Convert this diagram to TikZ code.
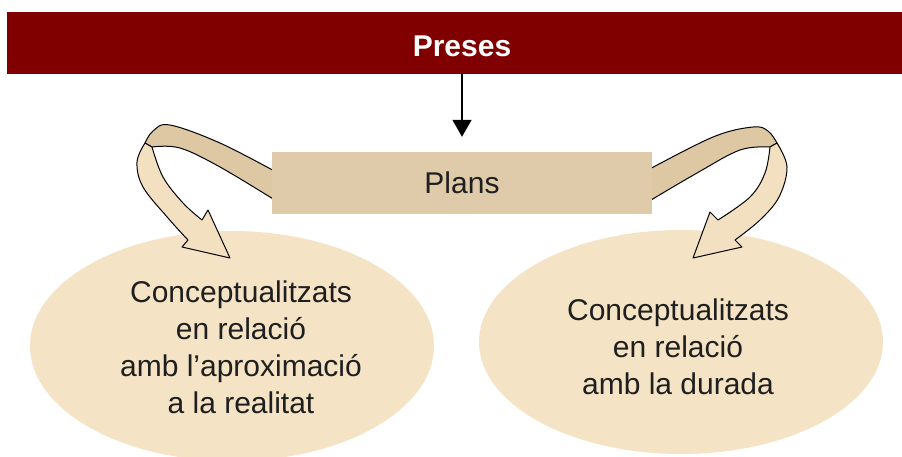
\documentclass[tikz,border=0pt]{standalone}
\usepackage{fontspec}
\setmainfont{Liberation Sans}
\usetikzlibrary{shapes.geometric,arrows.meta}
\definecolor{bandred}{HTML}{800000}
\definecolor{plantan}{HTML}{DFCBA9}
\definecolor{ribdark}{HTML}{DDC8A3}
\definecolor{riblight}{HTML}{F3E0C0}
\definecolor{ellfill}{HTML}{F5E3C5}
\tikzset{
  ovalbox/.style={ellipse, fill=ellfill, draw=none, inner sep=0pt},
  ribtop/.style={fill=ribdark, draw=black, line width=1pt, line join=round},
  ribdown/.style={fill=riblight, draw=black, line width=1pt, line join=round},
  bodytext/.style={font=\fontsize{30}{37}\selectfont, align=center, text=black!88},
}
\begin{document}
\begin{tikzpicture}[x=1pt,y=-1pt]
\useasboundingbox (0,0) rectangle (902,456);
% band
\node[fill=bandred, minimum width=895pt, minimum height=62pt, inner sep=0pt, anchor=north west] (band) at (7,12) {};
\node[font=\fontsize{30}{34}\selectfont\bfseries, text=white] (preses) at (462,46) {Preses};
% ellipses
\node[ovalbox, minimum width=404pt, minimum height=230pt] (left) at (232,346) {};
\node[ovalbox, minimum width=404pt, minimum height=224pt] (right) at (681,342) {};
\node[bodytext] (lefttext) at (241,347) {Conceptualitzats\\en relació\\amb l’aproximació\\a la realitat};
\node[bodytext] (righttext) at (678,347) {Conceptualitzats\\en relació\\amb la durada};
% left ribbon
\filldraw[ribtop] plot[smooth, tension=0.6] coordinates {(278,173) (220,143) (170,125) (153,131) (145,143)}
  -- plot[smooth, tension=0.6] coordinates {(152,147) (180,148) (220,167) (278,202)} -- cycle;
\filldraw[ribdown] plot[smooth, tension=0.6] coordinates {(145,143) (137,162) (143,187) (168,218) (188,240)}
  -- (182,247) -- (230,258) -- (208,210) -- plot[smooth, tension=0.6] coordinates {(202,220) (183,203) (163,177) (152,147)} -- cycle;
% right ribbon
\filldraw[ribtop] plot[smooth, tension=0.6] coordinates {(646,171) (713,137) (753,127) (768,131) (777,143)}
  -- plot[smooth, tension=0.6] coordinates {(770,147) (740,150) (697,173) (646,203)} -- cycle;
\filldraw[ribdown] plot[smooth, tension=0.6] coordinates {(777,143) (787,167) (779,197) (760,220) (735,240)}
  -- (742,247) -- (693,258) -- (710,212) -- plot[smooth, tension=0.6] coordinates {(718,220) (750,197) (765,173) (770,147)} -- cycle;
% plans box
\node[fill=plantan, minimum width=380pt, minimum height=62pt, inner sep=0pt,
      font=\fontsize{30}{34}\selectfont, text=black!88] (plans) at (462,183) {Plans};
% arrow
\draw[line width=1.5pt, -{Triangle[length=17pt,width=19pt]}, shorten >=15pt] (band.south -| plans.north) -- (plans.north);
\end{tikzpicture}
\end{document}
